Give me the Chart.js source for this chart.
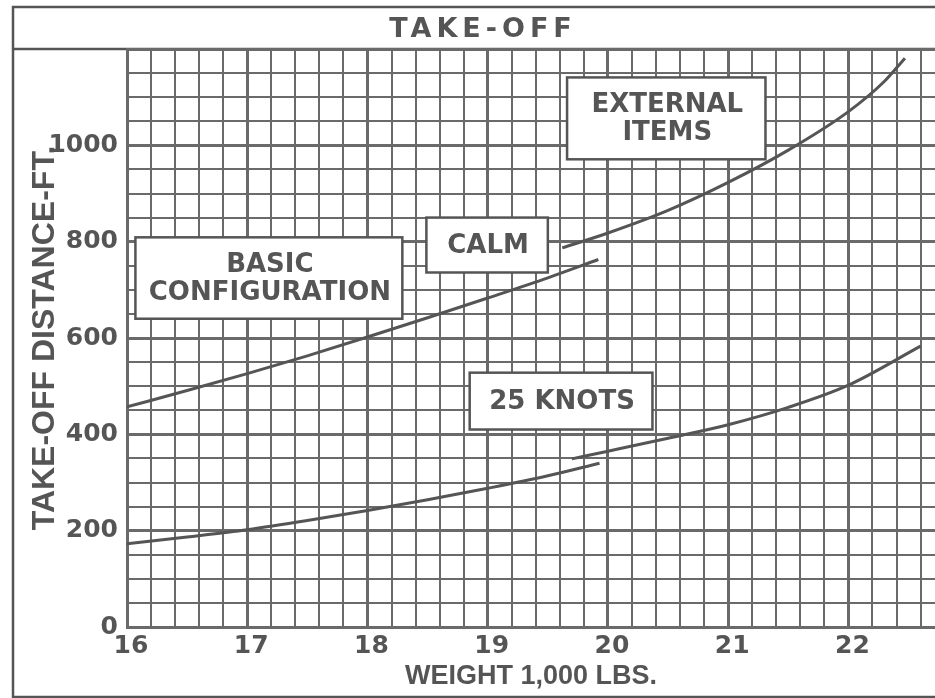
<!DOCTYPE html>
<html>
<head>
<meta charset="utf-8">
<title>Take-off</title>
<script src="https://cdn.jsdelivr.net/npm/chart.js@4.4.1/dist/chart.umd.min.js"></script>
<style>
  html, body { margin: 0; padding: 0; background: #fff; }
  #wrap { width: 935px; height: 698px; }
</style>
</head>
<body>
<div id="wrap"><canvas id="takeoffChart" width="935" height="698"></canvas></div>
<script>
// tick labels
const weightTicks = [16, 17, 18, 19, 20, 21, 22];
const distanceTicks = [0, 200, 400, 600, 800, 1000];

// calm - basic configuration
const calmBasicWeight = [16, 16.5, 17, 17.5, 18, 18.5, 19, 19.5, 19.92];
const calmBasicDist = [457, 491, 526, 563, 602, 642, 683, 725, 763];

// calm - external items
const calmExtWeight = [19.62, 20, 20.5, 21, 21.5, 22, 22.3, 22.47];
const calmExtDist = [787, 818, 865, 923, 990, 1070, 1133, 1181];

// 25 knots - basic configuration
const windBasicWeight = [16, 16.5, 17, 17.5, 18, 18.5, 19, 19.5, 19.93];
const windBasicDist = [173, 187, 202, 221, 242, 264, 288, 314, 340];

// 25 knots - external items
const windExtWeight = [19.7, 20, 20.5, 21, 21.5, 22, 22.6];
const windExtDist = [349, 365, 392, 420, 456, 502, 583];

const ink = '#555555';
const gridInk = '#6a6a6a';
const fontFamily = "'DejaVu Sans', sans-serif";
const narrowFamily = "'Liberation Sans', sans-serif";

// caixas de texto (em unidades do gráfico)
const notes = [
  { lines: ['EXTERNAL', 'ITEMS'], from: [19.66, 1141], to: [21.31, 971] },
  { lines: ['CALM'], from: [18.49, 850], to: [19.50, 736] },
  { lines: ['BASIC', 'CONFIGURATION'], from: [16.07, 809], to: [18.29, 640] },
  { lines: ['25 KNOTS'], from: [18.85, 528], to: [20.37, 410] }
];

const toPoints = (xs, ys) => xs.map((x, i) => ({ x: x, y: ys[i] }));

const curve = (label, xs, ys) => ({
  label: label,
  data: toPoints(xs, ys),
  borderColor: ink,
  borderWidth: 3,
  pointRadius: 0,
  fill: false,
  cubicInterpolationMode: 'monotone'
});

const isWhole = (v) => Math.abs(v - Math.round(v)) < 1e-6;

const framePlugin = {
  id: 'frame',
  beforeDraw(chart) {
    const ctx = chart.ctx;
    const area = chart.chartArea;
    ctx.save();
    ctx.fillStyle = '#ffffff';
    ctx.fillRect(0, 0, chart.width, chart.height);
    ctx.strokeStyle = ink;
    ctx.lineWidth = 2.5;
    ctx.beginPath();
    ctx.moveTo(chart.width, 7);
    ctx.lineTo(13, 7);
    ctx.lineTo(13, 697);
    ctx.lineTo(chart.width, 697);
    ctx.moveTo(13, area.top);
    ctx.lineTo(chart.width, area.top);
    ctx.stroke();
    // title
    ctx.fillStyle = ink;
    ctx.font = 'bold 27px ' + fontFamily;
    ctx.textAlign = 'center';
    ctx.textBaseline = 'middle';
    ctx.letterSpacing = '5px';
    ctx.fillText('TAKE-OFF', 483, 30);
    ctx.restore();
  },
  afterDatasetsDraw(chart) {
    const ctx = chart.ctx;
    const xs = chart.scales.x;
    const ys = chart.scales.y;
    ctx.save();
    notes.forEach((n) => {
      const x0 = xs.getPixelForValue(n.from[0]);
      const x1 = xs.getPixelForValue(n.to[0]);
      const y0 = ys.getPixelForValue(n.from[1]);
      const y1 = ys.getPixelForValue(n.to[1]);
      ctx.fillStyle = '#ffffff';
      ctx.fillRect(x0, y0, x1 - x0, y1 - y0);
      ctx.strokeStyle = ink;
      ctx.lineWidth = 2.5;
      ctx.strokeRect(x0, y0, x1 - x0, y1 - y0);
      ctx.fillStyle = ink;
      ctx.font = 'bold 26px ' + fontFamily;
      ctx.textAlign = 'center';
      ctx.textBaseline = 'middle';
      const cx = (x0 + x1) / 2 + 1;
      const cy = (y0 + y1) / 2;
      const step = 28;
      n.lines.forEach((t, i) => {
        ctx.fillText(t, cx, cy + (i - (n.lines.length - 1) / 2) * step + 1);
      });
    });
    ctx.restore();
  }
};

const ctx = document.getElementById('takeoffChart').getContext('2d');
const takeoffChart = new Chart(ctx, {
  type: 'line',
  data: {
    datasets: [
      curve('Calm - basic', calmBasicWeight, calmBasicDist),
      curve('Calm - external items', calmExtWeight, calmExtDist),
      curve('25 knots - basic', windBasicWeight, windBasicDist),
      curve('25 knots - external items', windExtWeight, windExtDist)
    ]
  },
  options: {
    responsive: false,
    animation: false,
    layout: { padding: { top: 49, left: 14, right: 0, bottom: 0 } },
    plugins: {
      legend: { display: false },
      tooltip: { enabled: false }
    },
    scales: {
      x: {
        type: 'linear',
        min: 16,
        max: 22.72,
        afterBuildTicks: (scale) => {
          const list = [];
          for (let i = 0; i <= 33; i++) list.push({ value: Math.round((16 + i * 0.2) * 10) / 10 });
          scale.ticks = list;
        },
        afterFit: (scale) => { scale.height = 71; },
        grid: {
          color: gridInk,
          lineWidth: (c) => (c.tick && isWhole(c.tick.value) ? 3 : 2),
          drawTicks: false
        },
        border: { display: true, color: gridInk, width: 3 },
        ticks: {
          autoSkip: false,
          maxRotation: 0,
          minRotation: 0,
          padding: 4,
          labelOffset: 4,
          color: ink,
          font: { family: fontFamily, size: 25, weight: 'bold' },
          callback: (v) => (weightTicks.includes(v) ? String(v) : '')
        },
        title: {
          display: true,
          text: 'WEIGHT 1,000 LBS.',
          color: ink,
          font: { family: narrowFamily, size: 27, weight: 'bold' },
          padding: { top: 0, bottom: 5 }
        }
      },
      y: {
        type: 'linear',
        min: 0,
        max: 1200,
        afterBuildTicks: (scale) => {
          const list = [];
          for (let v = 0; v <= 1200; v += 50) list.push({ value: v });
          scale.ticks = list;
        },
        afterFit: (scale) => { scale.width = 113; },
        grid: {
          color: gridInk,
          lineWidth: (c) => (c.tick && c.tick.value % 200 === 0 ? 3 : 2),
          drawTicks: false
        },
        border: { display: true, color: gridInk, width: 3 },
        ticks: {
          autoSkip: false,
          padding: 9,
          color: ink,
          font: { family: fontFamily, size: 25, weight: 'bold' },
          callback: (v) => (distanceTicks.includes(v) ? String(v) : '')
        },
        title: {
          display: true,
          text: 'TAKE-OFF DISTANCE-FT.',
          color: ink,
          font: { family: narrowFamily, size: 32, weight: 'bold' },
          padding: { top: 12, bottom: 0 }
        }
      }
    }
  },
  plugins: [framePlugin]
});
</script>
</body>
</html>
